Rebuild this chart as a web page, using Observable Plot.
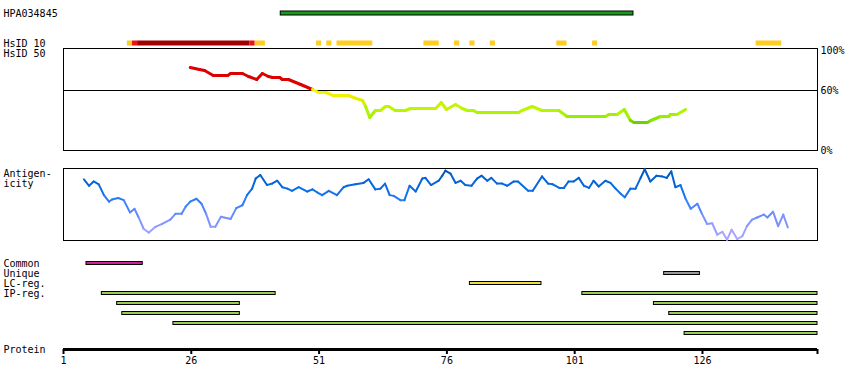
<!DOCTYPE html>
<html><head><meta charset="utf-8">
<script src="https://cdn.jsdelivr.net/npm/d3@7"></script>
<script src="https://cdn.jsdelivr.net/npm/@observablehq/plot@0.6"></script>
<style>
html,body{margin:0;padding:0;background:#fff;}
#chart{position:relative;width:850px;height:390px;background:#fff;overflow:hidden;}
#chart svg{position:absolute;left:0;top:0;}
</style></head><body><div id="chart"></div>
<script>
// ---------- data ----------
const proteinLength = 148;
const xDomain = [1, proteinLength + 0.5];
const axisTicks = [1, 26, 51, 76, 101, 126];

const topRows = ["HPA034845", " ", "  ", "HsID 10", "HsID 50"];
const hpaName = "HPA034845";
const hpaStart = [44];
const hpaEnd = [112];

const hsid10Start = [14, 15, 16, 38, 39, 51, 53, 55, 72, 78, 81, 85, 98, 105, 137];
const hsid10End   = [14, 15, 37, 38, 40, 51, 53, 61, 74, 78, 81, 85, 99, 105, 141];
const hsid10Level = ["mid","high","top","high","mid","mid","mid","mid","mid","mid","mid","mid","mid","mid","mid"];

const hsid50Residue = [25.8,27.6,28.6,30.3,33.1,33.7,36.0,37.2,38.8,39.9,41.1,41.9,43.3,43.8,45.0,47.4,49.7,50.9,52.3,53.8,56.8,57.7,59.5,60.1,60.9,62.0,63.0,64.0,64.6,65.9,67.9,68.9,73.8,74.9,75.9,77.7,79.0,80.0,81.2,81.9,90.0,90.7,92.7,94.6,97.9,99.5,107.0,107.7,109.3,110.7,111.9,112.6,115.2,115.9,117.8,119.4,119.7,121.0,122.7];
const hsid50Value   = [83,81,80,75,75,77,77,74,71,77,74,73,73,71,71,66,61,58,58,55,55,53,50,44,33,40,40,44,44,40,40,42,42,48,41,46,42,40,40,38,38,40,44,40,40,34,34,36,36,41,30,28,28,30,34,34,36,36,41];
const hsid50Ticks = [0, 60, 100];

const antigenResidue = [5.0,6.0,6.9,7.9,8.9,9.9,10.5,11.7,12.8,14.0,14.9,15.7,16.7,17.7,19.0,20.3,21.9,22.9,24.1,24.9,25.8,27.0,28.0,28.9,29.8,30.7,31.8,33.7,34.8,36.0,36.9,37.9,38.6,39.5,40.8,41.8,42.8,43.8,44.8,45.7,47.0,48.7,49.7,50.6,51.6,52.9,54.5,55.8,56.5,58.1,59.7,60.7,62.0,63.0,63.9,64.8,65.6,66.9,67.7,68.7,69.9,71.2,71.8,72.9,74.4,75.1,75.7,76.7,77.7,78.7,79.6,80.8,81.9,82.8,83.9,84.7,85.8,86.8,87.8,89.1,89.9,91.9,92.8,94.6,95.8,96.7,98.0,98.9,99.8,100.8,101.8,102.8,103.8,104.7,105.7,107.0,108.0,109.0,110.0,110.8,111.9,112.9,113.9,114.7,115.8,117.0,118.1,119.0,119.9,120.7,121.7,122.7,123.7,125.0,125.9,126.9,127.9,128.9,129.9,130.8,131.7,132.8,133.8,134.7,135.7,136.7,138.0,138.7,139.8,140.8,141.8,142.7];
const antigenValue   = [.85,.76,.82,.78,.63,.54,.57,.59,.56,.39,.44,.32,.16,.11,.19,.23,.29,.37,.37,.47,.54,.58,.51,.37,.19,.19,.33,.30,.45,.49,.63,.72,.86,.91,.77,.79,.83,.74,.72,.69,.74,.68,.71,.67,.63,.69,.63,.74,.76,.78,.80,.85,.71,.72,.79,.63,.62,.56,.56,.76,.68,.86,.87,.77,.83,.90,.97,.93,.80,.83,.77,.76,.86,.90,.83,.87,.79,.79,.76,.82,.82,.69,.69,.89,.79,.78,.73,.73,.82,.82,.87,.76,.73,.83,.75,.83,.80,.72,.65,.60,.72,.72,.87,.99,.82,.90,.89,.87,.96,.74,.77,.58,.44,.51,.37,.23,.24,.08,.12,.01,.15,.02,.06,.20,.29,.32,.36,.32,.40,.20,.36,.18];

const trackRows = ["Common","Unique","LC-reg.","IP-reg.","ip2","ip3","ip4","ip5"];
const trackLabels = ["Common","Unique","LC-reg.","IP-reg."];
const featureRow   = ["Common","Unique","LC-reg.","IP-reg.","IP-reg.","ip2","ip2","ip3","ip3","ip4","ip5"];
const featureStart = [6, 119, 81, 9, 103, 12, 117, 13, 120, 23, 123];
const featureEnd   = [16, 125, 94, 42, 148, 35, 148, 35, 148, 148, 148];
const featureType  = ["common","unique","lc","ip","ip","ip","ip","ip","ip","ip","ip"];

// ---------- styles ----------
const hsid10Colors = {mid: "#ffcc22", high: "#ee1111", top: "#a00000"};
const featureColors = {common: "#cc2299", unique: "#999999", lc: "#eedd44", ip: "#99cc55"};
const hsidLow = d3.scaleLinear().domain([27, 34, 40, 46, 55, 60]).range(["#66cc00","#99ee00","#b4f800","#d4f000","#f0f000","#f8f800"]).clamp(true);
const hsidColor = v => v >= 60 ? "#dd0000" : hsidLow(v);
const antigenColor = d3.scaleLinear().domain([0, 0.15, 0.3, 0.5, 0.7, 0.88, 1]).range(["#b8aaff","#9ca0ff","#7890ff","#3c82ff","#0a6ee8","#0060d0","#0050b0"]).clamp(true);

const font = {fontFamily: "'DejaVu Sans Mono', monospace", fontSize: "10px", background: "transparent", overflow: "visible", color: "black"};
const base = {width: 850, height: 390, marginLeft: 63, marginRight: 33, style: font};

const segs = (xs, ys) => d3.pairs(d3.zip(xs, ys)).map(([a, b]) => ({x1: a[0], y1: a[1], x2: b[0], y2: b[1], v: (a[1] + b[1]) / 2}));

const hpa = hpaStart.map((s, i) => ({row: hpaName, start: s, end: hpaEnd[i]}));
const hsid10 = hsid10Start.map((s, i) => ({row: "HsID 10", start: s, end: hsid10End[i], level: hsid10Level[i]}));
const features = featureRow.map((r, i) => ({row: r, start: featureStart[i], end: featureEnd[i], type: featureType[i]}));

const chart = document.getElementById("chart");

// top tracks
chart.append(Plot.plot({
  ...base, marginTop: 0, marginBottom: 0,
  x: {domain: xDomain, axis: null},
  y: {type: "band", domain: topRows, range: [7.5, 57.5], padding: 0, axis: null},
  color: {type: "identity"},
  marks: [
    Plot.barX(hpa, {x1: d => d.start - 0.5, x2: d => d.end + 0.5, y: "row", fill: "#1a9a1a", stroke: "black", strokeWidth: 1, insetTop: 3, insetBottom: 3}),
    Plot.barX(hsid10, {x1: d => d.start - 0.5, x2: d => d.end + 0.5, y: "row", fill: d => hsid10Colors[d.level], insetTop: 2.5, insetBottom: 2.5}),
    Plot.text(topRows.filter(r => r.trim()), {y: d => d, text: d => d, frameAnchor: "left", textAnchor: "start", dx: -60, fill: "black"})
  ]
}));

// HsID 50 panel
chart.append(Plot.plot({
  ...base, marginTop: 48, marginBottom: 240,
  x: {domain: xDomain, axis: null},
  y: {domain: [0, 100], range: [150, 50]},
  color: {type: "identity"},
  marks: [
    Plot.frame({stroke: "black"}),
    Plot.ruleY([60], {stroke: "black"}),
    Plot.link(segs(hsid50Residue, hsid50Value), {x1: "x1", y1: "y1", x2: "x2", y2: "y2", stroke: d => hsidColor(d.v), strokeWidth: 3, strokeLinecap: "round"}),
    Plot.axisY({anchor: "right", ticks: hsid50Ticks, tickSize: 0, tickPadding: 3, tickFormat: d => d + "%", fill: "black"})
  ]
}));

// Antigenicity panel
chart.append(Plot.plot({
  ...base, marginTop: 168, marginBottom: 150,
  x: {domain: xDomain, axis: null},
  y: {domain: [0, 1], axis: null},
  color: {type: "identity"},
  marks: [
    Plot.frame({stroke: "black"}),
    Plot.link(segs(antigenResidue, antigenValue), {x1: "x1", y1: "y1", x2: "x2", y2: "y2", stroke: d => antigenColor(d.v), strokeWidth: 2, strokeLinecap: "round"}),
    Plot.text(["Antigen-\nicity"], {frameAnchor: "top-left", textAnchor: "start", lineAnchor: "top", lineHeight: 1, dx: -60, dy: 1, fill: "black"})
  ]
}));

// bottom feature tracks
chart.append(Plot.plot({
  ...base, marginTop: 0, marginBottom: 0,
  x: {domain: xDomain, axis: null},
  y: {type: "band", domain: trackRows, range: [257.5, 337.5], padding: 0, axis: null},
  color: {type: "identity"},
  marks: [
    Plot.barX(features, {x1: d => d.start - 0.5, x2: d => d.end + 0.5, y: "row", fill: d => featureColors[d.type], stroke: "black", strokeWidth: 1, insetTop: 3.5, insetBottom: 3.5}),
    Plot.text(trackLabels, {y: d => d, text: d => d, frameAnchor: "left", textAnchor: "start", dx: -60, fill: "black"})
  ]
}));

// protein axis
chart.append(Plot.plot({
  ...base, marginTop: 300, marginBottom: 41,
  x: {domain: xDomain},
  y: {domain: [0, 1], range: [349, 300], axis: null},
  marks: [
    Plot.ruleY([0], {stroke: "black", strokeWidth: 3}),
    Plot.axisX({anchor: "bottom", ticks: [...axisTicks, proteinLength + 0.5], tickSize: 5, tickPadding: 2, strokeWidth: 2, stroke: "black", fill: "black", tickFormat: d => axisTicks.includes(d) ? String(d) : "", label: null}),
    Plot.text(["Protein"], {frameAnchor: "bottom-left", textAnchor: "start", lineAnchor: "middle", dx: -60, fill: "black"})
  ]
}));
</script></body></html>
